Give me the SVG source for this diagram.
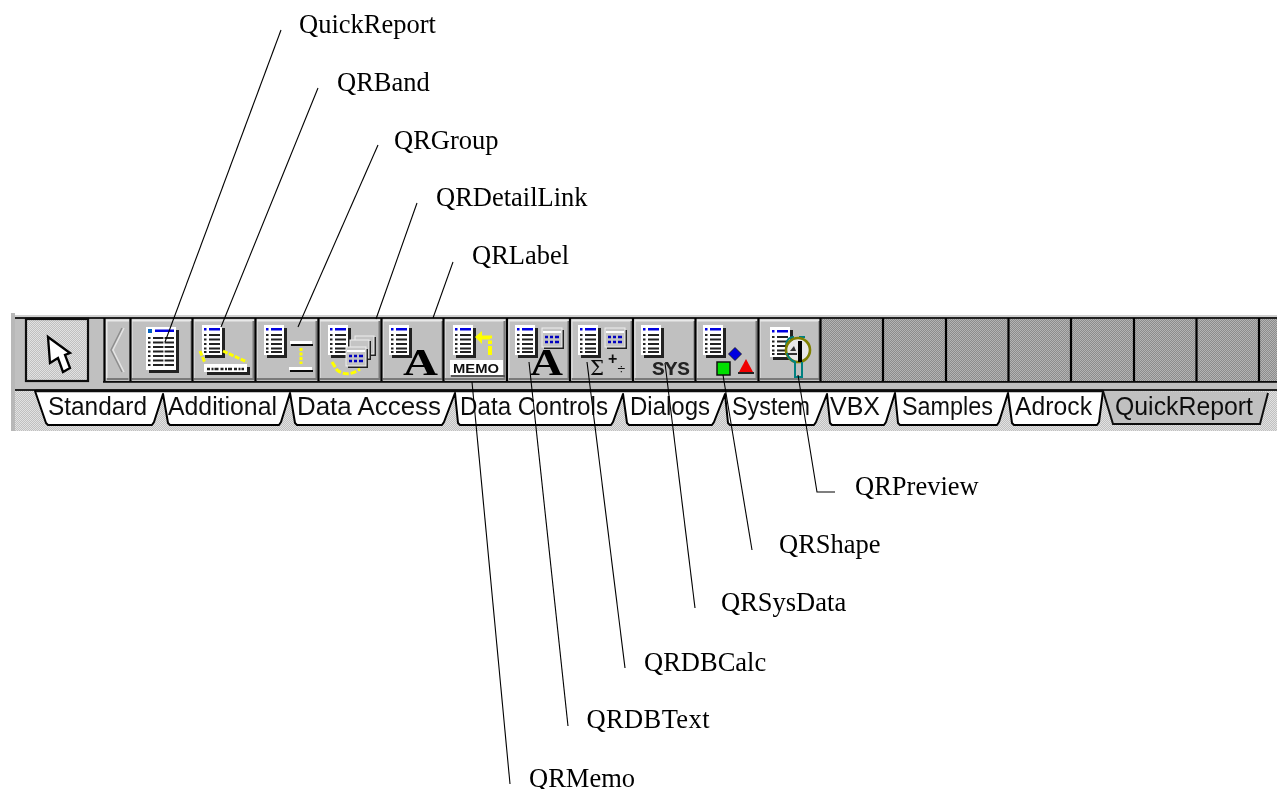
<svg xmlns="http://www.w3.org/2000/svg" xmlns:xlink="http://www.w3.org/1999/xlink" width="1277" height="789" viewBox="0 0 1277 789">
<style>
.lbl{font-family:"Liberation Serif","Times New Roman",serif;font-size:26.5px;fill:#000}
.tabt{font-family:"Liberation Sans",Arial,sans-serif;font-size:25px;fill:#111}
.con{fill:none;stroke:#000;stroke-width:1.1}
.tab{fill:#fff;stroke:#000;stroke-width:2;stroke-linejoin:round}
.sep{stroke:#000;stroke-width:2.2;fill:none}
.bigA{font-family:"Liberation Serif",serif;font-weight:700;font-size:38px;fill:#000}
.yl{fill:none;stroke:#ffff00;stroke-width:3}
.blue{fill:#0000e0}
</style>
<defs>
<pattern id="lite" width="2" height="2" patternUnits="userSpaceOnUse"><rect width="2" height="2" fill="#c0c0c0"/><rect width="1" height="1" fill="#e2e2e2"/><rect x="1" y="1" width="1" height="1" fill="#e2e2e2"/></pattern>
<pattern id="dark" width="2" height="2" patternUnits="userSpaceOnUse"><rect width="2" height="2" fill="#8c8c8c"/><rect width="1" height="1" fill="#b4b4b4"/><rect x="1" y="1" width="1" height="1" fill="#b4b4b4"/></pattern>
<filter id="soft" x="0" y="0" width="1" height="1"><feGaussianBlur stdDeviation="0.45"/></filter>
<g id="btn">
<rect x="0" y="319" width="63" height="62" fill="#c0c0c0"/>
<path d="M1.500 378V320.500H62" fill="none" stroke="#e8e8e8" stroke-width="2"/>
<path d="M2 379H61.500V321" fill="none" stroke="#7a7a7a" stroke-width="2"/>
</g>
<g id="doc">
<rect x="3" y="3" width="20" height="30" fill="#222"/>
<rect width="20" height="30" fill="#fff"/>
<rect x="2" y="3" width="2.500" height="2.500" class="blue"/>
<rect x="7" y="3" width="11" height="2.500" class="blue"/>
<path d="M2 10h2.500M7 10h11M2 14.500h2.500M7 14.500h11M2 19h2.500M7 19h11M2 23.500h2.500M7 23.500h11M2 27h2.500M7 27h11" stroke="#222" stroke-width="2" fill="none"/>
</g>
<g id="win">
<rect x="2" y="2" width="20" height="19" fill="#222"/>
<rect width="20" height="19" fill="#c4c4c4" stroke="#eee" stroke-width="1"/>
<rect x="1" y="3" width="18" height="2" fill="#fff"/>
<path d="M3 9h3M8 9h3M13 9h4M3 14h3M8 14h3M13 14h4" stroke="#0000c0" stroke-width="2.400" fill="none"/>
</g>
</defs>
<rect width="1277" height="789" fill="#fff"/>

<g id="palette" filter="url(#soft)">
<rect x="15" y="315" width="1262" height="76" fill="#c0c0c0"/>
<rect x="15" y="391" width="1262" height="40" fill="url(#lite)"/>
<rect x="11" y="313" width="4" height="118" fill="#b8b8b8"/>
<rect x="15" y="315" width="1262" height="2" fill="#d0d0d0"/>
<rect x="15" y="317" width="1262" height="2" fill="#222"/>
<rect x="103" y="381" width="1174" height="1.800" fill="#111"/>
<rect x="15" y="389" width="1262" height="2" fill="#222"/>

<g id="selector">
<rect x="26" y="319" width="62" height="62" fill="url(#lite)" stroke="#111" stroke-width="2.200"/>
<path d="M48 337L50 363L58 358L63 372L70 368L65 355L70 353Z" fill="#fff" stroke="#000" stroke-width="2.300" stroke-linejoin="miter"/>
</g>
<g id="scroll-left">
<rect x="105" y="319" width="25" height="62" fill="#c0c0c0"/>
<path d="M106.500 378V320.500H129" fill="none" stroke="#e8e8e8" stroke-width="2"/>
<path d="M107 379H128.500" fill="none" stroke="#7a7a7a" stroke-width="2"/>
<path d="M122 328L111 350L122 372" fill="none" stroke="#8e8e8e" stroke-width="1.500"/>
<path d="M124 328L113 350L124 372" fill="none" stroke="#e4e4e4" stroke-width="1.500"/>
</g>

<g id="quickreport-btn">
<use xlink:href="#btn" href="#btn" x="130"/>
<rect x="149" y="330" width="30" height="43" fill="#222"/>
<rect x="146" y="327" width="30" height="43" fill="#fff"/>
<rect x="148" y="329" width="4" height="4" fill="#0060c0"/>
<rect x="155" y="329.500" width="19" height="2.500" class="blue"/>
<path d="M148 338h2.500M153 338h21M148 342.500h2.500M153 342.500h21M148 347h2.500M153 347h21M148 351.500h2.500M153 351.500h21M148 356h2.500M153 356h21M148 360.500h2.500M153 360.500h21M148 365h2.500M153 365h21" stroke="#222" stroke-width="2.100" fill="none"/>
<path d="M164 335V368" stroke="#fff" stroke-width="1.200"/>
</g>
<g id="qrband-btn">
<use xlink:href="#btn" href="#btn" x="192"/>
<use xlink:href="#doc" href="#doc" x="202" y="325"/>
<path d="M200 351L205 363M223 351L247 362" class="yl" stroke-dasharray="5 1.500"/>
<rect x="207" y="367" width="43" height="8" fill="#222"/>
<rect x="204" y="364" width="43" height="8" fill="#fff"/>
<path d="M207 369H244" stroke="#222" stroke-width="2.500" stroke-dasharray="3 1.500 2 1 4 2"/>
</g>
<g id="qrgroup-btn">
<use xlink:href="#btn" href="#btn" x="255"/>
<use xlink:href="#doc" href="#doc" x="264" y="325"/>
<rect x="290" y="341" width="22" height="3" fill="#fff"/><rect x="291" y="344" width="22" height="2" fill="#111"/>
<rect x="289" y="367" width="23" height="3" fill="#fff"/><rect x="290" y="370" width="23" height="2" fill="#111"/>
<path d="M301 348V364" class="yl" stroke-width="4" stroke-dasharray="3 1.500"/>
</g>
<g id="qrdetaillink-btn">
<use xlink:href="#btn" href="#btn" x="318"/>
<use xlink:href="#doc" href="#doc" x="328" y="325"/>
<rect x="356" y="337" width="20" height="19" fill="#222"/><rect x="355" y="336" width="19" height="18" fill="#c4c4c4" stroke="#eee"/>
<rect x="351" y="341" width="20" height="19" fill="#222"/><rect x="350" y="340" width="19" height="18" fill="#c4c4c4" stroke="#eee"/>
<use xlink:href="#win" href="#win" x="346" y="347"/>
<path d="M332 362L337 370Q347 378 360 369" class="yl" stroke-width="4.500" stroke-dasharray="6 2"/>
</g>
<g id="qrlabel-btn">
<use xlink:href="#btn" href="#btn" x="381"/>
<use xlink:href="#doc" href="#doc" x="389" y="325"/>
<text class="bigA" x="403" y="375" textLength="35" lengthAdjust="spacingAndGlyphs">A</text>
</g>
<g id="qrmemo-btn">
<use xlink:href="#btn" href="#btn" x="443"/>
<use xlink:href="#doc" href="#doc" x="453" y="325"/>
<rect x="450" y="360" width="53" height="15" fill="#fff"/>
<rect x="451" y="375" width="54" height="2" fill="#555"/>
<text x="453" y="372.500" font-family="'Liberation Sans',sans-serif" font-weight="700" font-size="12px" fill="#111" textLength="46" lengthAdjust="spacingAndGlyphs">MEMO</text>
<path d="M475 337L482 331V344Z" fill="#ffff00"/>
<path d="M482 337.500H490V344M490 346V357" fill="none" stroke="#ffff00" stroke-width="4" stroke-dasharray="9 2 6 1"/>
</g>
<g id="qrdbtext-btn">
<use xlink:href="#btn" href="#btn" x="507"/>
<use xlink:href="#doc" href="#doc" x="515" y="325"/>
<use xlink:href="#win" href="#win" x="542" y="328"/>
<text class="bigA" x="530" y="375" textLength="33" lengthAdjust="spacingAndGlyphs">A</text>
</g>
<g id="qrdbcalc-btn">
<use xlink:href="#btn" href="#btn" x="570"/>
<use xlink:href="#doc" href="#doc" x="578" y="325"/>
<use xlink:href="#win" href="#win" x="605" y="328"/>
<text x="590" y="375" font-family="'DejaVu Serif',serif" font-size="20px" fill="#111" textLength="14" lengthAdjust="spacingAndGlyphs">Σ</text>
<text x="608" y="364" font-family="'Liberation Sans',sans-serif" font-weight="700" font-size="16px" fill="#111">+</text>
<text x="617.500" y="374" font-family="'Liberation Sans',sans-serif" font-size="14px" fill="#111">÷</text>
</g>
<g id="qrsysdata-btn">
<use xlink:href="#btn" href="#btn" x="633"/>
<use xlink:href="#doc" href="#doc" x="641" y="325"/>
<text x="652" y="375" font-family="'Liberation Mono',monospace" font-weight="700" font-size="20px" fill="#222" textLength="38" lengthAdjust="spacingAndGlyphs">SYS</text>
</g>
<g id="qrshape-btn">
<use xlink:href="#btn" href="#btn" x="695"/>
<use xlink:href="#doc" href="#doc" x="703" y="325"/>
<rect x="717" y="362" width="13" height="13" fill="#00e000" stroke="#111" stroke-width="1.500"/>
<path d="M735 347.500L741.500 354L735 360.500L728.500 354Z" fill="#0000e0" stroke="#111" stroke-width=".8"/>
<path d="M746 359L753 372H739Z" fill="#f00000"/>
<path d="M738 373H754" stroke="#222" stroke-width="2"/>
</g>
<g id="qrpreview-btn">
<use xlink:href="#btn" href="#btn" x="758"/>
<use xlink:href="#doc" href="#doc" x="770" y="327"/>
<circle cx="798" cy="350" r="11" fill="#e8e8e8"/>
<path d="M786 345Q787 337 794 337M799 337H805" stroke="#008080" stroke-width="2.200" fill="none"/>
<circle cx="798" cy="350" r="12" fill="none" stroke="#808000" stroke-width="2.600"/>
<path d="M787 353Q789 360 795 362V377H802V362" stroke="#008080" stroke-width="2" fill="none"/>
<path d="M800 341V362" stroke="#000" stroke-width="4"/>
<path d="M790 351L794 346L796 351Z" fill="#333"/>
<path d="M788 354H797" stroke="#333" stroke-width="2"/>
</g>
<g id="empty-slots">
<rect x="821" y="319" width="456" height="62" fill="url(#dark)"/>
</g>
<path class="sep" d="M104.500 318V381M130.500 318V381M192.500 318V381M255.500 318V381M318.500 318V381M381.500 318V381M443.500 318V381M507 318V381M570 318V381M633 318V381M695.500 318V381M758.500 318V381M820.500 318V381M883 318V381M946 318V381M1008.500 318V381M1071 318V381M1134 318V381M1196.500 318V381M1259 318V381"/>

<g id="tabs">
<path class="tab" d="M35 391L46 423L48 425H152L154 422L163 394L168 423L170 425H279L281 422L290 393L295 423L297 425H442L444 422L455 393L458 423L460 425H611L613 422L623 394L627 423L629 425H712L714 422L725 394L728 423L730 425H814L816 422L827 394L830 423L832 425H884L886 422L895 393L898 423L900 425H997L999 422L1008 393L1012 423L1014 425H1097L1099 422L1103 391Z"/>
<path d="M36 391H1103" stroke="#111" stroke-width="2.500"/>
<path d="M1103 391L1113 424H1260L1268 392Z" fill="#c0c0c0"/>
<path d="M1103 391L1113 424H1260L1268 393" fill="none" stroke="#111" stroke-width="2"/>
<text class="tabt" x="48" y="415" textLength="99" lengthAdjust="spacingAndGlyphs">Standard</text>
<text class="tabt" x="168" y="415" textLength="109" lengthAdjust="spacingAndGlyphs">Additional</text>
<text class="tabt" x="297" y="415" textLength="144" lengthAdjust="spacingAndGlyphs">Data Access</text>
<text class="tabt" x="460" y="415" textLength="148" lengthAdjust="spacingAndGlyphs">Data Controls</text>
<text class="tabt" x="630" y="415" textLength="80" lengthAdjust="spacingAndGlyphs">Dialogs</text>
<text class="tabt" x="732" y="415" textLength="78" lengthAdjust="spacingAndGlyphs">System</text>
<text class="tabt" x="830" y="415" textLength="50" lengthAdjust="spacingAndGlyphs">VBX</text>
<text class="tabt" x="902" y="415" textLength="91" lengthAdjust="spacingAndGlyphs">Samples</text>
<text class="tabt" x="1015" y="415" textLength="77" lengthAdjust="spacingAndGlyphs">Adrock</text>
<text class="tabt" x="1115" y="415" textLength="138" lengthAdjust="spacingAndGlyphs">QuickReport</text>
</g>
</g>

<g id="connectors">
<path class="con" d="M281 30L165 342"/>
<path class="con" d="M318 88L221 327"/>
<path class="con" d="M378 145L298 327"/>
<path class="con" d="M417 203L376 319"/>
<path class="con" d="M453 262L433 318"/>
<path class="con" d="M510 784L472 382"/>
<path class="con" d="M568 726L529 362"/>
<path class="con" d="M625 668L587 362"/>
<path class="con" d="M695 608L665 363"/>
<path class="con" d="M752 550L723 375"/>
<path class="con" d="M835 492H817L798 375"/>
</g>

<g id="label-quickreport"><text class="lbl" x="299" y="33">QuickReport</text></g>
<g id="label-qrband"><text class="lbl" x="337" y="91">QRBand</text></g>
<g id="label-qrgroup"><text class="lbl" x="394" y="149">QRGroup</text></g>
<g id="label-qrdetaillink"><text class="lbl" x="436" y="206">QRDetailLink</text></g>
<g id="label-qrlabel"><text class="lbl" x="472" y="264">QRLabel</text></g>
<g id="label-qrpreview"><text class="lbl" x="855" y="495">QRPreview</text></g>
<g id="label-qrshape"><text class="lbl" x="779" y="553">QRShape</text></g>
<g id="label-qrsysdata"><text class="lbl" x="721" y="611">QRSysData</text></g>
<g id="label-qrdbcalc"><text class="lbl" x="644" y="671">QRDBCalc</text></g>
<g id="label-qrdbtext"><text class="lbl" x="586.500" y="728" textLength="123">QRDBText</text></g>
<g id="label-qrmemo"><text class="lbl" x="529" y="787">QRMemo</text></g>
</svg>
